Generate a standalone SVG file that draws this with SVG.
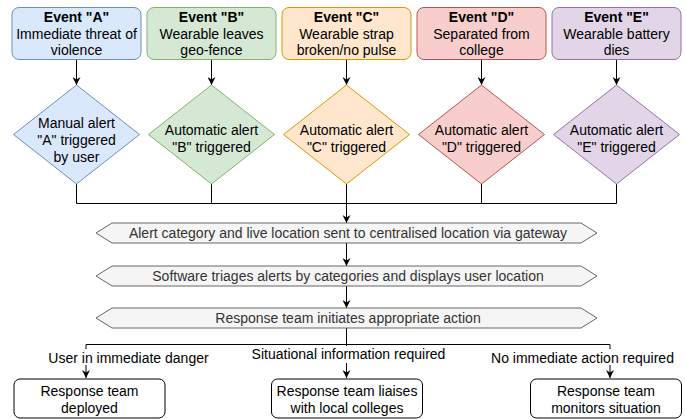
<svg xmlns="http://www.w3.org/2000/svg" width="685" height="419" viewBox="0 0 685 419">
<defs>
<marker id="arr" viewBox="0 0 10 10" refX="10" refY="5" markerWidth="8" markerHeight="8" markerUnits="userSpaceOnUse" orient="auto">
<path d="M0,0 L10,5 L0,10 L3,5 z" fill="#000"/>
</marker>
<style>
text{font-family:"Liberation Sans",Arial,Helvetica,sans-serif;text-anchor:middle;}
.t14{font-size:14px;fill:#000;}
.b{font-weight:bold;}
.t12{font-size:14px;fill:#333;}
.line{fill:none;stroke:#000;stroke-width:1;}
.arrow{fill:none;stroke:#000;stroke-width:1;marker-end:url(#arr);}
.hex{fill:#f5f5f5;stroke:#666;stroke-width:1;}
.out{fill:#fff;stroke:#000;stroke-width:1;}
.blue{fill:#dae8fc;stroke:#6c8ebf;}
.green{fill:#d5e8d4;stroke:#82b366;}
.orange{fill:#ffe6cc;stroke:#d79b00;}
.red{fill:#f8cecc;stroke:#b85450;}
.purple{fill:#e1d5e7;stroke:#9673a6;}
</style>
</defs>
<rect width="685" height="419" fill="#fff"/>

<g id="connectors">
<path class="arrow" d="M76.5 59.5 V85"/>
<path class="arrow" d="M211.5 59.5 V85"/>
<path class="arrow" d="M346.5 59.5 V85"/>
<path class="arrow" d="M481.5 59.5 V85"/>
<path class="arrow" d="M616.5 59.5 V85"/>
<path class="line" d="M76.5 184 V203.5 H616.5 V184"/>
<path class="line" d="M211.5 184 V203.5"/>
<path class="line" d="M481.5 184 V203.5"/>
<path class="arrow" d="M346.5 184 V223"/>
<path class="arrow" d="M346.5 243 V266"/>
<path class="arrow" d="M346.5 286 V308"/>
<path class="line" d="M346.5 328 V344.5"/>
<path class="line" d="M86 344.5 H610"/>
<path class="arrow" d="M86 344.5 V378"/>
<path class="arrow" d="M346.5 344.5 V378"/>
<path class="arrow" d="M610 344.5 V378"/>
<g id="label-danger">
<rect x="48" y="349" width="161" height="16" fill="#fff"/>
<text class="t14" x="128.5" y="362.5">User in immediate danger</text>
</g>
<g id="label-info">
<rect x="252" y="346" width="193" height="17" fill="#fff"/>
<text class="t14" x="348.5" y="359">Situational information required</text>
</g>
<g id="label-none">
<rect x="491" y="349" width="183" height="16" fill="#fff"/>
<text class="t14" x="582.5" y="362.5">No immediate action required</text>
</g>
</g>

<g id="event-a">
<rect class="blue" x="12" y="7.5" width="129" height="52" rx="7"/>
<text class="t14 b" x="76.5" y="21.7">Event "A"</text>
<text class="t14" x="76.5" y="38.5">Immediate threat of</text>
<text class="t14" x="76.5" y="55.3">violence</text>
</g>
<g id="event-b">
<rect class="green" x="147" y="7.5" width="129" height="52" rx="7"/>
<text class="t14 b" x="211.5" y="21.7">Event "B"</text>
<text class="t14" x="211.5" y="38.5">Wearable leaves</text>
<text class="t14" x="211.5" y="55.3">geo-fence</text>
</g>
<g id="event-c">
<rect class="orange" x="282" y="7.5" width="129" height="52" rx="7"/>
<text class="t14 b" x="346.5" y="21.7">Event "C"</text>
<text class="t14" x="346.5" y="38.5">Wearable strap</text>
<text class="t14" x="346.5" y="55.3">broken/no pulse</text>
</g>
<g id="event-d">
<rect class="red" x="417" y="7.5" width="129" height="52" rx="7"/>
<text class="t14 b" x="481.5" y="21.7">Event "D"</text>
<text class="t14" x="481.5" y="38.5">Separated from</text>
<text class="t14" x="481.5" y="55.3">college</text>
</g>
<g id="event-e">
<rect class="purple" x="552" y="7.5" width="129" height="52" rx="7"/>
<text class="t14 b" x="616.5" y="21.7">Event "E"</text>
<text class="t14" x="616.5" y="38.5">Wearable battery</text>
<text class="t14" x="616.5" y="55.3">dies</text>
</g>

<g id="alert-a">
<polygon class="blue" points="76.5,85 139.5,134.5 76.5,184 13.5,134.5"/>
<text class="t14" x="76.5" y="128.2">Manual alert</text>
<text class="t14" x="76.5" y="145">"A" triggered</text>
<text class="t14" x="76.5" y="161.8">by user</text>
</g>
<g id="alert-b">
<polygon class="green" points="211.5,85 274.5,134.5 211.5,184 148.5,134.5"/>
<text class="t14" x="211.5" y="134.8">Automatic alert</text>
<text class="t14" x="211.5" y="151.6">"B" triggered</text>
</g>
<g id="alert-c">
<polygon class="orange" points="346.5,85 409.5,134.5 346.5,184 283.5,134.5"/>
<text class="t14" x="346.5" y="134.8">Automatic alert</text>
<text class="t14" x="346.5" y="151.6">"C" triggered</text>
</g>
<g id="alert-d">
<polygon class="red" points="481.5,85 544.5,134.5 481.5,184 418.5,134.5"/>
<text class="t14" x="481.5" y="134.8">Automatic alert</text>
<text class="t14" x="481.5" y="151.6">"D" triggered</text>
</g>
<g id="alert-e">
<polygon class="purple" points="616.5,85 679.5,134.5 616.5,184 553.5,134.5"/>
<text class="t14" x="616.5" y="134.8">Automatic alert</text>
<text class="t14" x="616.5" y="151.6">"E" triggered</text>
</g>

<g id="step-send">
<polygon class="hex" points="96,233 112,223 581,223 597,233 581,243 112,243"/>
<text class="t12" x="348" y="238">Alert category and live location sent to centralised location via gateway</text>
</g>
<g id="step-triage">
<polygon class="hex" points="96,276 112,266 581,266 597,276 581,286 112,286"/>
<text class="t12" x="348" y="281">Software triages alerts by categories and displays user location</text>
</g>
<g id="step-action">
<polygon class="hex" points="96,318 112,308 581,308 597,318 581,328 112,328"/>
<text class="t12" x="348" y="323">Response team initiates appropriate action</text>
</g>

<g id="out-deployed">
<rect class="out" x="14" y="379" width="151" height="39" rx="6"/>
<text class="t14" x="89.5" y="396.3">Response team</text>
<text class="t14" x="89.5" y="413">deployed</text>
</g>
<g id="out-liaise">
<rect class="out" x="271.5" y="379" width="151" height="39" rx="6"/>
<text class="t14" x="347" y="396.3">Response team liaises</text>
<text class="t14" x="347" y="413">with local colleges</text>
</g>
<g id="out-monitor">
<rect class="out" x="530.5" y="379" width="151" height="39" rx="6"/>
<text class="t14" x="606" y="396.3">Response team</text>
<text class="t14" x="606" y="413">monitors situation</text>
</g>
</svg>
